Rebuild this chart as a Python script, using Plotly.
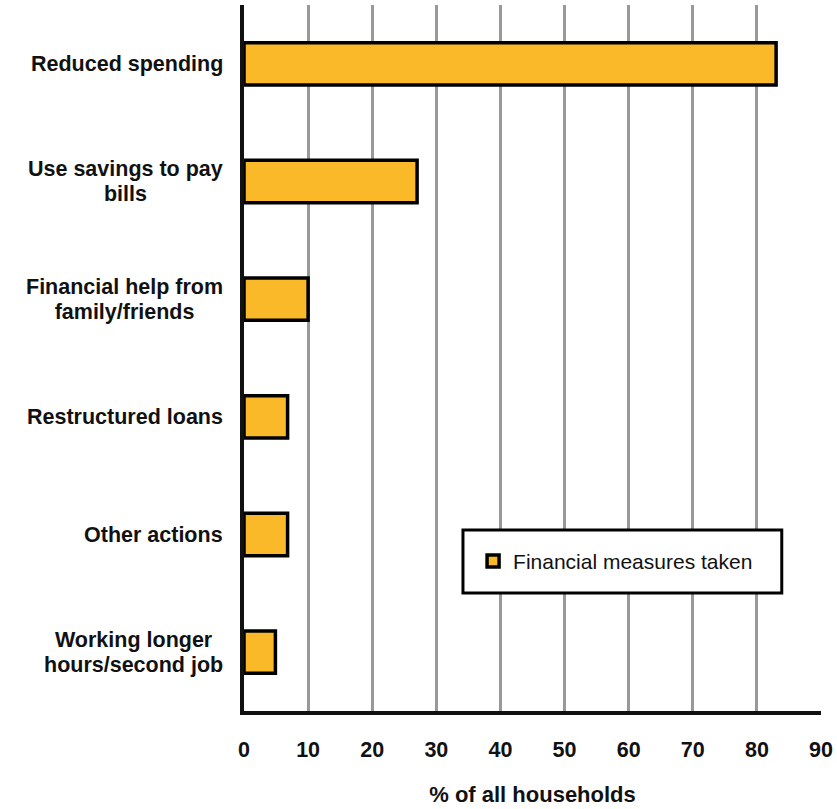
import plotly.graph_objects as go

categories = [
    "Reduced spending",
    "Use savings to pay<br>bills",
    "Financial help from<br>family/friends",
    "Restructured loans",
    "Other actions",
    "Working longer<br>hours/second job",
]
values = [83, 27, 10, 6.8, 6.8, 4.9]
series_name = "Financial measures taken"
x_ticks = [0, 10, 20, 30, 40, 50, 60, 70, 80, 90]

FONT = "Liberation Sans, Arial, sans-serif"

fig = go.Figure()
fig.add_trace(go.Bar(
    x=values, y=categories, orientation="h", name=series_name,
    width=0.36,
    marker=dict(color="#F9B928", line=dict(color="#000000", width=3.5)),
    showlegend=True,
))

# category labels: right-aligned blocks with centred lines, tight line spacing
annotations = []
for cat in categories:
    lines = cat.split("<br>")
    txt = "<br>".join(f"<span style='font-size:21.5px'>{ln}</span>" for ln in lines)
    annotations.append(dict(
        xref="paper", yref="y", x=0, y=cat, xanchor="right", yanchor="middle",
        xshift=-19, text=f"<b>{txt}</b>", showarrow=False, align="center",
        font=dict(size=19, family=FONT, color="#111111"),
    ))

fig.update_layout(
    width=837, height=809,
    margin=dict(l=244, r=16, t=5, b=98),
    plot_bgcolor="white", paper_bgcolor="white",
    font=dict(family=FONT, color="#111111"),
    showlegend=True,
    legend=dict(
        x=0.397, y=0.212, xanchor="left", yanchor="middle",
        bgcolor="rgba(0,0,0,0)", borderwidth=0,
        font=dict(size=21, family=FONT, color="#111111"),
        itemwidth=30,
    ),
    xaxis=dict(
        range=[0, 90], tickvals=x_ticks, ticktext=[str(v) for v in x_ticks],
        showgrid=True, gridcolor="#999999", gridwidth=3,
        showline=True, linecolor="#111111", linewidth=4,
        zeroline=False, ticks="outside", ticklen=0, ticklabelstandoff=16,
        tickfont=dict(size=21.5, family=FONT, weight="bold"),
        title=dict(text="<b>% of all households</b>", font=dict(size=22), standoff=27),
    ),
    yaxis=dict(
        autorange="reversed", showgrid=False,
        showline=True, linecolor="#111111", linewidth=4,
        showticklabels=False, ticks="",
    ),
    annotations=annotations,
    shapes=[dict(
        type="rect", xref="paper", yref="paper",
        x0=0.3795, x1=0.932, y0=0.167, y1=0.2564,
        line=dict(color="#000000", width=3), fillcolor="white", layer="above",
    )],
)

fig.write_html("out.html")
